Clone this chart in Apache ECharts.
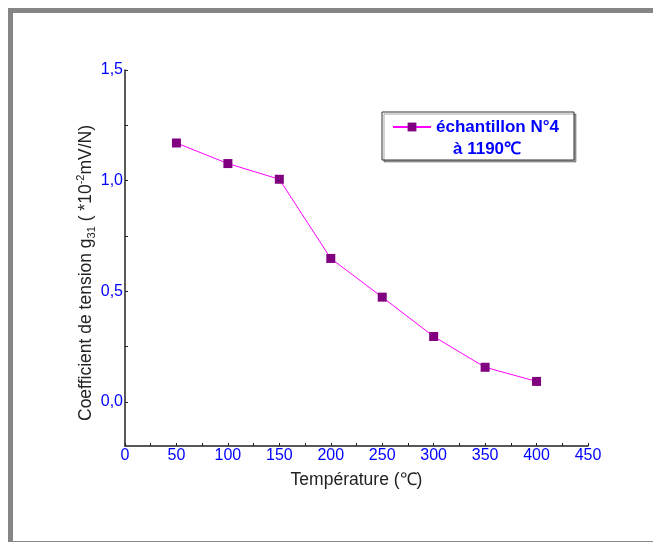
<!DOCTYPE html>
<html>
<head>
<meta charset="UTF-8">
<title>g31</title>
<style type="text/css">
	body { margin: 0; background: #fff; }
	#frame {
		position: absolute; left: 8px; top: 8px; width: 680px; height: 528px;
		border-top: 5px solid #858585; border-left: 5px solid #858585; border-bottom: 1px solid #8a8a8a;
	}
	#box { position: absolute; left: 0; top: 0; width: 653px; height: 543px; }
</style>
<script src="https://cdn.jsdelivr.net/npm/echarts@6/dist/echarts.min.js"></script>
</head>
<body>
<div id="frame"></div>
<div id="box"></div>
<script>
var temps = [50, 100, 150, 200, 250, 300, 350, 400];
var g31 = [1.17, 1.077, 1.006, 0.648, 0.473, 0.295, 0.156, 0.092];
var yLabels = [0, 0.5, 1.0, 1.5];
var yTicks = [0, 0.25, 0.5, 0.75, 1.0, 1.25, 1.5];

var font = 'Arial, "Liberation Sans", sans-serif';
var blue = '#0000ff';

var chart = echarts.init(document.getElementById('box'));

var option = {
	backgroundColor: 'transparent',
	animation: false,
	grid: { left: 125, right: 65, top: 70, bottom: 97, outerBoundsMode: 'none' },
	title: {
		text: 'à 1190℃',
		left: 453, top: 139, padding: 0,
		textStyle: { color: blue, fontSize: 17, fontWeight: 'bold', fontFamily: font, lineHeight: 20 }
	},
	legend: {
		left: 382, top: 112,
		padding: [5, 6, 23, 10],
		itemWidth: 38, itemHeight: 11,
		backgroundColor: '#fff',
		borderColor: '#333', borderWidth: 1,
		shadowColor: 'rgba(0,0,0,0.35)', shadowBlur: 0, shadowOffsetX: 2, shadowOffsetY: 2,
		textStyle: { color: blue, fontSize: 17, fontWeight: 'bold', fontFamily: font, lineHeight: 20, width: 132 },
		data: ['échantillon N°4']
	},
	xAxis: {
		type: 'value', min: 0, max: 450, interval: 50,
		name: 'Température (℃)', nameLocation: 'middle', nameGap: 25,
		nameMoveOverlap: false,
		nameTextStyle: { color: '#222', fontSize: 17.5, fontFamily: font },
		splitLine: { show: false },
		axisLine: { onZero: false, lineStyle: { color: '#222', width: 1.5 } },
		axisTick: { inside: true, length: 3, lineStyle: { color: '#222' } },
		minorTick: { show: true, splitNumber: 2, length: 3, lineStyle: { color: '#222' } },
		axisLabel: { color: blue, fontSize: 16, fontFamily: font, margin: 2, showMinLabel: true, showMaxLabel: true }
	},
	yAxis: {
		type: 'value', min: -0.2, max: 1.5,
		name: '{t|Coefficient de tension g}{sub|31}{t| ( *10}{sup|-2}{t|mV/N)}',
		nameLocation: 'middle', nameGap: 28, nameRotate: 90,
		nameMoveOverlap: false,
		nameTextStyle: {
			color: '#222', fontSize: 17.5, fontFamily: font, padding: [0, 30, 0, 0],
			rich: {
				t: { fontSize: 17.5, fontFamily: font, color: '#222', lineHeight: 22 },
				sub: { fontSize: 11, fontFamily: font, color: '#222', lineHeight: 22, verticalAlign: 'bottom' },
				sup: { fontSize: 11, fontFamily: font, color: '#222', lineHeight: 22, verticalAlign: 'top' }
			}
		},
		splitLine: { show: false },
		axisLine: { show: true, lineStyle: { color: '#222', width: 1.5 } },
		axisTick: { show: true, inside: true, length: 3, customValues: yTicks, lineStyle: { color: '#222' } },
		axisLabel: {
			color: blue, fontSize: 16, fontFamily: font, margin: 2,
			customValues: yLabels,
			formatter: function (v) { return v.toFixed(1).replace('.', ','); }
		}
	},
	series: [{
		name: 'échantillon N°4',
		type: 'line',
		data: temps.map(function (t, i) { return [t, g31[i]]; }),
		symbol: 'rect', symbolSize: 9,
		lineStyle: { color: '#ff00ff', width: 1 },
		itemStyle: { color: '#800080' }
	}]
};

chart.setOption(option);
</script>
</body>
</html>
